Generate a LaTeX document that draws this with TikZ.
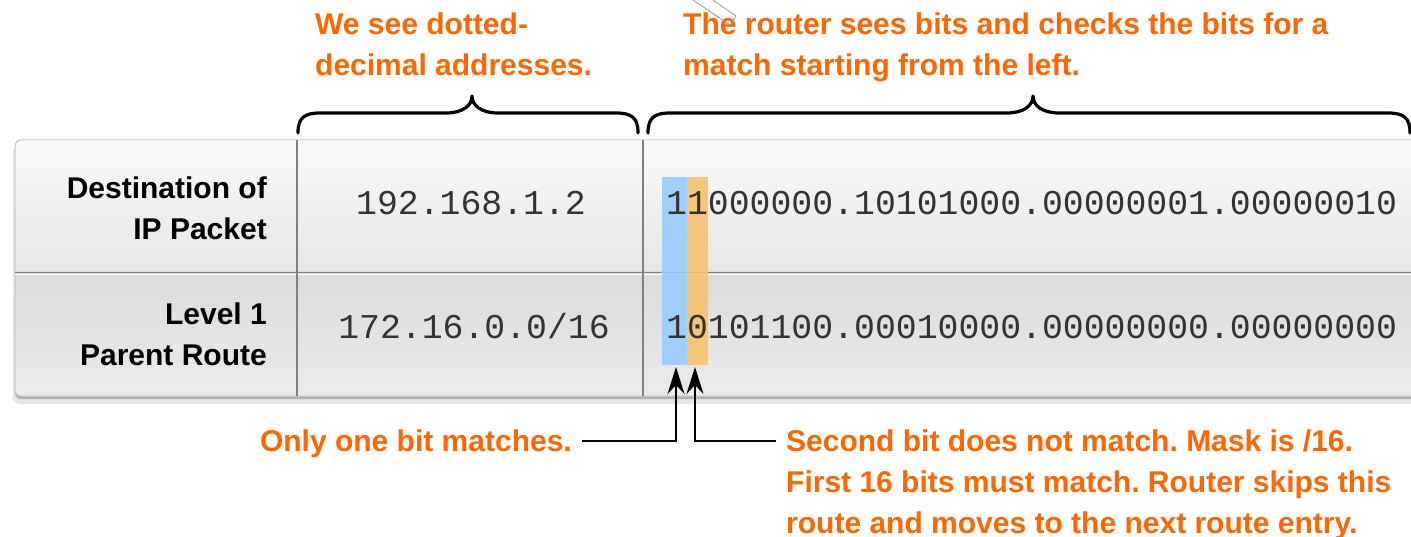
\documentclass[tikz,border=0pt]{standalone}
\usepackage{fontspec}
\setmainfont{Liberation Sans}
\newfontfamily\monof{Liberation Mono}
\usetikzlibrary{arrows.meta}
\frenchspacing
\definecolor{noteorange}{HTML}{FF6600}
\definecolor{hlblue}{HTML}{99CCFF}
\definecolor{hlorange}{HTML}{F6C36E}
\definecolor{digitgray}{HTML}{333333}
\definecolor{rulegray}{HTML}{808080}
\tikzset{
  note/.style={inner sep=0pt, text=noteorange, align=left,
    font=\fontsize{30}{41}\selectfont\bfseries},
  rowlabel/.style={inner sep=0pt, text=black, align=right,
    font=\fontsize{30}{41}\selectfont\bfseries},
  digits/.style={inner sep=0pt, text=digitgray,
    font=\fontsize{34.8}{40}\selectfont\monof},
  bracepath/.style={line width=3.2pt, line cap=round, line join=round},
  conn/.style={line width=2.2pt, -{Stealth[length=27pt, width=17pt, inset=9pt]}},
}
\begin{document}
\begin{tikzpicture}[x=1pt, y=-1pt]
\useasboundingbox (0,0) rectangle (1411,537);
\begin{scope}
\clip (0,0) rectangle (1411,537);

% table shadow
\fill[black!10, rounded corners=7] (13,146) rectangle (1440,404);
\fill[black!30, rounded corners=6] (15,143) rectangle (1440,399);

% table rows
\begin{scope}
  \clip[rounded corners=6] (15,140) rectangle (1440,396);
  \shade[top color=white!98!black, bottom color=white!90!black]
    (15,140) rectangle (1440,272);
  \shade[top color=white!86!black, bottom color=white!92!black]
    (15,272) rectangle (1440,396);
\end{scope}
\draw[black!22, line width=1pt, rounded corners=6] (15,140) rectangle (1440,396);

% row and column rules
\draw[rulegray, line width=1.3pt] (15,272.5) -- (1440,272.5);
\draw[white, line width=1pt] (15,274.3) -- (1440,274.3);
\draw[rulegray, line width=1.3pt] (297,140) -- (297,396);
\draw[rulegray, line width=1.3pt] (643,140) -- (643,396);

% first and second bit columns
\fill[hlblue, fill opacity=0.9] (662,177) rectangle (687,365);
\fill[hlorange, fill opacity=0.9] (687,177) rectangle (708,365);

% braces
\draw[bracepath] (298,133) .. controls (298,118) and (304,113) .. (320,113)
  -- (446,113) .. controls (462,113) and (472,106) .. (472,96)
  .. controls (472,106) and (482,113) .. (498,113)
  -- (616,113) .. controls (632,113) and (638,118) .. (638,133);
\draw[bracepath] (648,133) .. controls (648,118) and (654,113) .. (670,113)
  -- (1007,113) .. controls (1023,113) and (1033,106) .. (1033,96)
  .. controls (1033,106) and (1043,113) .. (1059,113)
  -- (1388,113) .. controls (1404,113) and (1410,118) .. (1410,133);

% annotations above (base anchor sits on the last line)
\node[note, anchor=base west] (seedec) at (315,76) {We see dotted-\\decimal addresses.};
\node[note, anchor=base west] (seebits) at (683,76) {The router sees bits and checks the bits for a\\match starting from the left.};

% row labels
\node[rowlabel, anchor=base east] (dest) at (267,240) {Destination of\\IP Packet};
\node[rowlabel, anchor=base east] (parent) at (267,365) {Level 1\\Parent Route};

% dotted-decimal values
\node[digits, anchor=base] (destdec) at (471,215) {192.168.1.2};
\node[digits, anchor=base] (parentdec) at (474,338) {172.16.0.0/16};

% binary values
\node[digits, anchor=base west] (destbin) at (666,215) {11000000.10101000.00000001.00000010};
\node[digits, anchor=base west] (parentbin) at (666,338) {10101100.00010000.00000000.00000000};

% notes below
\node[note, anchor=base east] (onebit) at (572,451) {Only one bit matches.};
\node[note, anchor=base west] (secondbit) at (786,533) {Second bit does not match. Mask is /16.\\First 16 bits must match. Router skips this\\route and moves to the next route entry.};

% connectors from the notes up to the bit columns
\coordinate (firsttip) at (676,367);
\coordinate (secondtip) at (695,367);
\coordinate (onebitend) at (582,441);
\coordinate (secondbitend) at (776,441);
\draw[conn] (onebitend) -| (firsttip);
\draw[conn] (secondbitend) -| (secondtip);

% thin grey outline fragment at the top edge
\draw[black!40, line width=0.8pt] (693,0) -- (730,25) -- (736,16) -- (713,0);
\end{scope}
\end{tikzpicture}
\end{document}
